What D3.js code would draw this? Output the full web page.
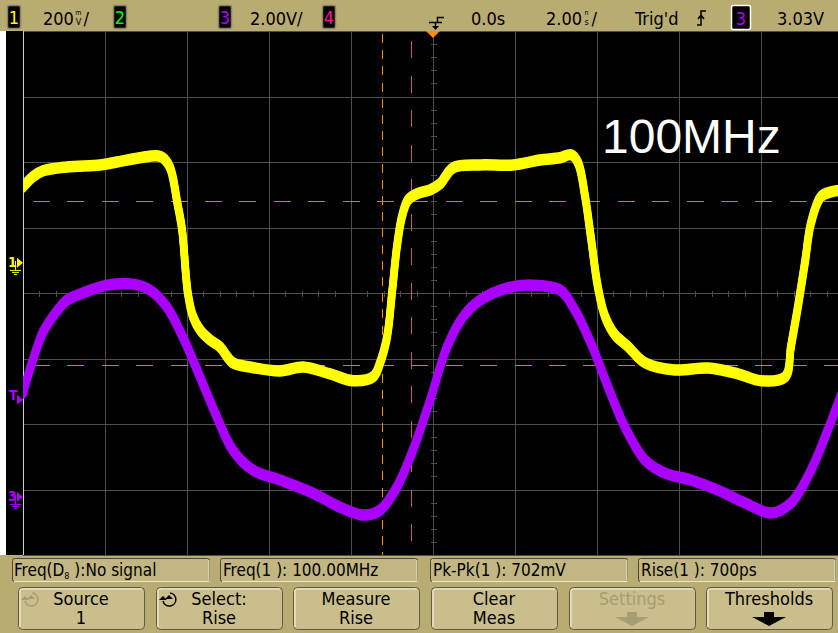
<!DOCTYPE html>
<html>
<head>
<meta charset="utf-8">
<script src="https://cdn.jsdelivr.net/npm/d3@7"></script>
<style>
  html, body { margin: 0; padding: 0; background: #ffffff; }
  svg { display: block; }
  text { font-family: 'Liberation Sans Narrow', 'DejaVu Sans Condensed', 'Liberation Sans', sans-serif; }
</style>
</head>
<body>
<svg id="scope" width="838" height="633"></svg>
<script>
// Channel 1 (yellow) : time in ns, amplitude in mV
const ch1Time = [-10.00,-9.76,-9.51,-8.93,-8.12,-7.71,-7.15,-6.73,-6.59,-6.41,-6.24,-6.12,-5.98,-5.85,-5.68,-5.44,-5.20,-4.88,-4.46,-3.73,-3.17,-2.51,-1.95,-1.46,-1.29,-1.12,-1.00,-0.88,-0.76,-0.61,-0.39,-0.07,0.17,0.49,1.15,1.95,2.61,3.10,3.37,3.54,3.71,3.85,4.02,4.20,4.44,4.76,5.17,5.90,6.71,7.44,8.00,8.59,8.73,8.90,9.07,9.22,9.46,9.71,10.00];
const ch1mV = [232,263,281,293,299,308,321,327,321,290,186,101,-92,-165,-205,-235,-256,-305,-318,-330,-318,-339,-360,-348,-305,-226,-92,49,140,192,211,223,241,290,299,299,314,321,330,305,202,79,-73,-165,-220,-256,-305,-327,-321,-339,-360,-348,-256,-134,0,122,202,217,223];

// Channel 3 (purple) : time in ns, amplitude in V
const ch3Time = [-10.00,-9.76,-9.51,-9.17,-8.93,-8.54,-7.95,-7.32,-6.90,-6.49,-6.10,-5.68,-5.27,-4.88,-4.39,-3.73,-2.93,-2.27,-1.71,-1.29,-0.88,-0.49,-0.07,0.34,0.73,1.15,1.80,2.44,3.10,3.46,3.85,4.27,4.68,5.17,5.66,6.29,6.95,7.61,8.24,8.73,9.22,9.63,10.00];
const ch3V = [3.18,4.18,5.04,5.68,6.01,6.23,6.47,6.50,6.32,5.80,4.88,3.66,2.44,1.43,0.82,0.52,0.12,-0.31,-0.55,-0.40,0.31,1.43,2.96,4.58,5.50,6.01,6.38,6.47,6.32,5.71,4.70,3.36,2.14,1.13,0.73,0.52,0.21,-0.18,-0.49,-0.18,0.82,2.05,3.27];

// Vertical / horizontal settings
const timePerDiv = 2.0;        // ns/div
const ch1PerDiv = 200;         // mV/div
const ch1Center = -92;         // mV at screen centre
const ch3PerDiv = 2.0;         // V/div
const ch3Center = 6.23;        // V at screen centre
const trigLevel = 3.03;        // V on channel 3

// Measurement cursors
const cursorTimes = [-1.24, -0.54];   // ns
const cursorLevels = [189, -311];     // mV on channel 1

// Status line and annotation texts
const chanBoxes = [
  {label: "1", color: "#ffff00"},
  {label: "2", color: "#00ff00"},
  {label: "3", color: "#b000ff"},
  {label: "4", color: "#ff1493"}
];
const ch1ScaleLabel = ["200", "m", "V", "/"];
const ch3ScaleLabel = "2.00V/";
const delayLabel = "0.0s";
const timebaseLabel = ["2.00", "n", "s", "/"];
const trigStatus = "Trig'd";
const trigSourceLabel = "3";
const trigLevelLabel = "3.03V";
const freqNote = "100MHz";
const measurements = ["Freq(D", "Freq(1 ): 100.00MHz", "Pk-Pk(1 ): 702mV", "Rise(1 ): 700ps"];
const softkeys = [["Source", "1"], ["Select:", "Rise"], ["Measure", "Rise"], ["Clear", "Meas"], ["Settings", ""], ["Thresholds", ""]];

const svg = d3.select("#scope");
const W = 838, H = 633;

// Screen geometry
const sLeft = 23, sRight = 843, sTop = 31, sBottom = 555;
const x = d3.scaleLinear().domain([-5 * timePerDiv, 5 * timePerDiv]).range([sLeft, sRight]);
const y1 = d3.scaleLinear().domain([ch1Center - 4 * ch1PerDiv, ch1Center + 4 * ch1PerDiv]).range([sBottom, sTop]);
const y3 = d3.scaleLinear().domain([ch3Center - 4 * ch3PerDiv, ch3Center + 4 * ch3PerDiv]).range([sBottom, sTop]);
const yDiv = d3.scaleLinear().domain([0, 8]).range([sTop, sBottom]);

const tan = "#b9ac73";

// Backgrounds
svg.append("rect").attr("x", 0).attr("y", 0).attr("width", W).attr("height", H).attr("fill", tan);
svg.append("rect").attr("x", 0).attr("y", sTop).attr("width", W).attr("height", sBottom - sTop).attr("fill", "#ffffff");
svg.append("rect").attr("x", 6).attr("y", sTop).attr("width", W - 6).attr("height", sBottom - sTop).attr("fill", "#000000");

// Graticule
const grid = svg.append("g").attr("stroke", "#4e4e4e").attr("stroke-width", 1).attr("shape-rendering", "crispEdges");
d3.range(-5, 6).forEach(i => {
  const t = i * timePerDiv;
  grid.append("line").attr("x1", Math.round(x(t)) + 0.5).attr("x2", Math.round(x(t)) + 0.5)
    .attr("y1", sTop).attr("y2", sBottom);
});
d3.range(0, 9).forEach(j => {
  grid.append("line").attr("x1", sLeft).attr("x2", sRight)
    .attr("y1", Math.round(yDiv(j)) + 0.5).attr("y2", Math.round(yDiv(j)) + 0.5);
});
// minor ticks on the centre axes
const cx = Math.round(x(0)) + 0.5, cy = Math.round(yDiv(4)) + 0.5;
d3.range(-25, 26).forEach(k => {
  if (k % 5 === 0) return;
  const px = Math.round(x(k * timePerDiv / 5)) + 0.5;
  grid.append("line").attr("x1", px).attr("x2", px).attr("y1", cy - 3).attr("y2", cy + 3);
});
d3.range(1, 40).forEach(k => {
  if (k % 5 === 0) return;
  const py = Math.round(yDiv(k / 5)) + 0.5;
  grid.append("line").attr("x1", cx - 3).attr("x2", cx + 3).attr("y1", py).attr("y2", py);
});
svg.append("line").attr("x1", sLeft + 0.5).attr("x2", sLeft + 0.5).attr("y1", sTop).attr("y2", sBottom)
  .attr("stroke", "#d0d0d0").attr("stroke-width", 1).attr("shape-rendering", "crispEdges");

// Cursors
const cur = svg.append("g").attr("shape-rendering", "crispEdges");
cursorLevels.forEach(v => {
  cur.append("line").attr("x1", sLeft).attr("x2", sRight)
    .attr("y1", Math.round(y1(v)) + 0.5).attr("y2", Math.round(y1(v)) + 0.5)
    .attr("stroke", "#d4801e").attr("stroke-width", 1).attr("stroke-dasharray", "17,17.4").attr("stroke-dashoffset", -10);
});
cur.append("line").attr("x1", Math.round(x(cursorTimes[0])) + 0.5).attr("x2", Math.round(x(cursorTimes[0])) + 0.5)
  .attr("y1", sTop).attr("y2", sBottom)
  .attr("stroke", "#ff8c1a").attr("stroke-width", 1).attr("stroke-dasharray", "9,7.2").attr("stroke-dashoffset", -3);
cur.append("line").attr("x1", Math.round(x(cursorTimes[1])) + 0.5).attr("x2", Math.round(x(cursorTimes[1])) + 0.5)
  .attr("y1", sTop).attr("y2", sBottom)
  .attr("stroke", "#c86e12").attr("stroke-width", 1).attr("stroke-dasharray", "17,17.5").attr("stroke-dashoffset", -10);

// Traces
svg.append("clipPath").attr("id", "screen").append("rect")
  .attr("x", sLeft).attr("y", sTop).attr("width", sRight - sLeft).attr("height", sBottom - sTop);
const traces = svg.append("g").attr("clip-path", "url(#screen)");

function drawTrace(times, values, yScale, color) {
  const pts = times.map((t, i) => [t, values[i]]);
  const line = d3.line().x(d => x(d[0])).y(d => yScale(d[1])).curve(d3.curveCatmullRom.alpha(0.5));
  const g = traces.append("g");
  [-2, 0, 2].forEach(off => {
    g.append("path").attr("d", line(pts)).attr("transform", `translate(0,${off})`)
      .attr("fill", "none").attr("stroke", color).attr("stroke-width", 7.5)
      .attr("stroke-linejoin", "round").attr("stroke-linecap", "round");
  });
}
drawTrace(ch3Time, ch3V, y3, "#aa00ff");
drawTrace(ch1Time, ch1mV, y1, "#ffff00");

// Frequency annotation
svg.append("text").attr("x", 602).attr("y", 153).attr("fill", "#ffffff")
  .style("font-family", "'Liberation Sans', Arial, sans-serif").attr("font-size", 48).text(freqNote);

// Left-edge markers
function groundMarker(yPos, label, color) {
  const g = svg.append("g").attr("fill", color).attr("stroke", color);
  g.append("text").attr("x", 8).attr("y", yPos + 4).attr("stroke", "none")
    .attr("font-size", 14).attr("font-weight", "bold").text(label);
  g.append("path").attr("d", `M17,${yPos - 5}L23,${yPos}L17,${yPos + 5}Z`).attr("stroke", "none");
  g.append("line").attr("x1", 15.5).attr("x2", 15.5).attr("y1", yPos - 2).attr("y2", yPos + 7).attr("stroke-width", 1);
  g.append("line").attr("x1", 10).attr("x2", 21).attr("y1", yPos + 7.5).attr("y2", yPos + 7.5).attr("stroke-width", 1);
  g.append("line").attr("x1", 12).attr("x2", 19).attr("y1", yPos + 9.5).attr("y2", yPos + 9.5).attr("stroke-width", 1);
  g.append("line").attr("x1", 14).attr("x2", 17).attr("y1", yPos + 11.5).attr("y2", yPos + 11.5).attr("stroke-width", 1);
}
groundMarker(y1(0), "1", "#ffff00");
groundMarker(y3(0), "3", "#aa00ff");
const tY = y3(trigLevel);
svg.append("text").attr("x", 9).attr("y", tY + 2).attr("fill", "#aa00ff").attr("font-size", 14).attr("font-weight", "bold").text("T");
svg.append("path").attr("d", `M17,${tY - 3}L23,${tY + 2}L17,${tY + 7}Z`).attr("fill", "#aa00ff");

// Status line
function chanBox(xPos, label, color, border) {
  svg.append("rect").attr("x", xPos + 0.5).attr("y", 5.5).attr("width", 13).attr("height", 23).attr("rx", 2)
    .attr("fill", "#000").attr("stroke", border).attr("stroke-width", 1.5);
  svg.append("text").attr("x", xPos + 7).attr("y", 24).attr("text-anchor", "middle").attr("fill", color)
    .attr("font-size", 18).text(label);
}
chanBox(7, chanBoxes[0].label, chanBoxes[0].color, "#8a8466");
chanBox(113, chanBoxes[1].label, chanBoxes[1].color, "#8a8466");
chanBox(218, chanBoxes[2].label, chanBoxes[2].color, "#8a8466");
chanBox(322, chanBoxes[3].label, chanBoxes[3].color, "#8a8466");

// number followed by a small stacked unit (prefix above, unit below) and a slash
function stackedUnit(xStart, parts) {
  const num = svg.append("text").attr("x", xStart).attr("y", 25).attr("font-size", 18).attr("fill", "#000").text(parts[0]);
  const w = num.node().getComputedTextLength();
  const ux = xStart + w + 4.5;
  svg.append("text").attr("x", ux).attr("y", 15).attr("text-anchor", "middle").attr("font-size", 7).attr("fill", "#000").text(parts[1]);
  svg.append("text").attr("x", ux).attr("y", 25).attr("text-anchor", "middle").attr("font-size", 9).attr("fill", "#000").text(parts[2]);
  svg.append("text").attr("x", ux + 5).attr("y", 25).attr("font-size", 18).attr("fill", "#000").text(parts[3]);
}
stackedUnit(43, ch1ScaleLabel);
svg.append("text").attr("x", 250).attr("y", 25).attr("font-size", 18).attr("fill", "#000").text(ch3ScaleLabel);
svg.append("text").attr("x", 471).attr("y", 25).attr("font-size", 18).attr("fill", "#000").text(delayLabel);
stackedUnit(546, timebaseLabel);
svg.append("text").attr("x", 635).attr("y", 25).attr("font-size", 18).attr("fill", "#000").text(trigStatus);
// rising-edge trigger symbol
svg.append("path").attr("d", "M697,25H701V11H706M698,19L701,15L704,19").attr("fill", "none").attr("stroke", "#000").attr("stroke-width", 1.5);
svg.append("rect").attr("x", 731.5).attr("y", 5.5).attr("width", 19).attr("height", 24).attr("rx", 2)
  .attr("fill", "#000").attr("stroke", "#ffffff").attr("stroke-width", 1.5);
svg.append("text").attr("x", 741).attr("y", 25).attr("text-anchor", "middle").attr("fill", "#b000ff").attr("font-size", 18).text(trigSourceLabel);
svg.append("text").attr("x", 777).attr("y", 25).attr("font-size", 18).attr("fill", "#000").text(trigLevelLabel);
// trigger position marker
svg.append("path").attr("d", "M444,17.5H437.5V22.5M429,22.5H442M435.5,22.5V28").attr("fill", "none").attr("stroke", "#000").attr("stroke-width", 1.5);
svg.append("path").attr("d", "M432,26L435.5,30L439,26Z").attr("fill", "#000");
svg.append("path").attr("d", `M${x(0) - 7},31L${x(0) + 7},31L${x(0)},38Z`).attr("fill", "#ff8c1a");

// Measurement readouts
const measX = [12, 220, 430, 638];
measX.forEach((mx, i) => {
  svg.append("rect").attr("x", mx + 0.5).attr("y", 558.5).attr("width", 197).attr("height", 23).attr("rx", 2)
    .attr("fill", "#c2b682").attr("stroke", "#4b4838").attr("stroke-width", 1);
  svg.append("path").attr("d", `M${mx + 2},${581.5}H${mx + 197}V${560}`).attr("fill", "none").attr("stroke", "#efe8c8").attr("stroke-width", 1);
});
const m0 = svg.append("text").attr("x", 14).attr("y", 576).attr("font-size", 17).attr("fill", "#000");
m0.append("tspan").text(measurements[0]);
m0.append("tspan").attr("font-size", 9).attr("dy", 3).text("8");
m0.append("tspan").attr("dy", -3).text(" ):No signal");
measurements.slice(1).forEach((m, i) => {
  svg.append("text").attr("x", measX[i + 1] + 3).attr("y", 576).attr("font-size", 17).attr("fill", "#000").text(m);
});

// Softkeys
const keyX = [18, 156, 293, 431, 569, 706];
keyX.forEach((kx, i) => {
  svg.append("rect").attr("x", kx + 0.5).attr("y", 587.5).attr("width", 126).attr("height", 42).attr("rx", 4)
    .attr("fill", "#cabf8c").attr("stroke", "#5e5a46").attr("stroke-width", 1);
  svg.append("path").attr("d", `M${kx + 2},${627}V${591}Q${kx + 2},${589} ${kx + 5},${589}H${kx + 124}`)
    .attr("fill", "none").attr("stroke", "#f4efd6").attr("stroke-width", 1.2);
  const dim = (i === 4);
  const col = dim ? "#a59d74" : "#000";
  const cxk = kx + 63;
  svg.append("text").attr("x", cxk).attr("y", 605).attr("text-anchor", "middle").attr("font-size", 18).attr("fill", col).text(softkeys[i][0]);
  if (softkeys[i][1]) {
    svg.append("text").attr("x", cxk).attr("y", 624).attr("text-anchor", "middle").attr("font-size", 18).attr("fill", col).text(softkeys[i][1]);
  }
  if (i >= 4) {
    svg.append("path").attr("d", `M${cxk - 5},612H${cxk + 5}V617H${cxk + 17}L${cxk},626L${cxk - 17},617H${cxk - 5}Z`).attr("fill", col);
  }
});
// rotary-knob icons
function knobIcon(cxi, cyi, color) {
  const g = svg.append("g").attr("stroke", color).attr("fill", "none").attr("stroke-width", 1.5);
  g.append("path").attr("d", `M${cxi - 6},${cyi + 2}A6.5,6.5 0 1 0 ${cxi + 1},${cyi - 6}`);
  g.append("path").attr("d", `M${cxi - 4},${cyi}L${cxi},${cyi - 4}L${cxi + 4},${cyi}Z`).attr("fill", color).attr("stroke", "none");
  g.append("path").attr("d", `M${cxi - 10},${cyi + 1}L${cxi - 6},${cyi - 3}L${cxi - 2},${cyi + 1}Z`).attr("fill", color).attr("stroke", "none");
}
knobIcon(31, 599, "#a59d74");
knobIcon(169, 599, "#000");
</script>
</body>
</html>
